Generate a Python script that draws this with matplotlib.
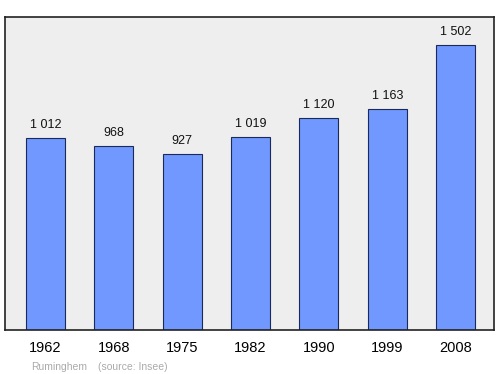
import matplotlib.pyplot as plt

years = ['1962', '1968', '1975', '1982', '1990', '1999', '2008']
population = [1012, 968, 927, 1019, 1120, 1163, 1502]
value_labels = ['1 012', '968', '927', '1 019', '1 120', '1 163', '1 502']

plt.rcParams['font.family'] = ['Liberation Sans', 'DejaVu Sans']

fig = plt.figure(figsize=(5, 3.74), dpi=100)
ax = fig.add_axes([0.01, 0.1176, 0.978, 0.837])
ax.set_facecolor('#eeeeee')

x = range(len(years))
ax.bar(x, population, width=0.57, color='#7098ff', edgecolor='#1a2a5a', linewidth=0.8, zorder=2)

# labels above the bars
for i, v in enumerate(population):
    ax.annotate(value_labels[i], (i, v), xytext=(0, 5), textcoords='offset points',
                ha='center', va='bottom', fontsize=9, color='#111111')

ax.set_xlim(-0.59, 6.56)
ax.set_ylim(0, 1650)
ax.set_yticks([])
ax.set_xticks(list(x))
ax.set_xticklabels(years, fontsize=10.5)
ax.tick_params(axis='x', length=0, pad=8)
for s in ax.spines.values():
    s.set_linewidth(1.2)
    s.set_color('#222222')

fig.text(0.062, 0.01, 'Ruminghem', fontsize=7.5, color='#aaaaaa')
fig.text(0.195, 0.01, '(source: Insee)', fontsize=7.5, color='#aaaaaa')

fig.savefig('out.png', dpi=100)
